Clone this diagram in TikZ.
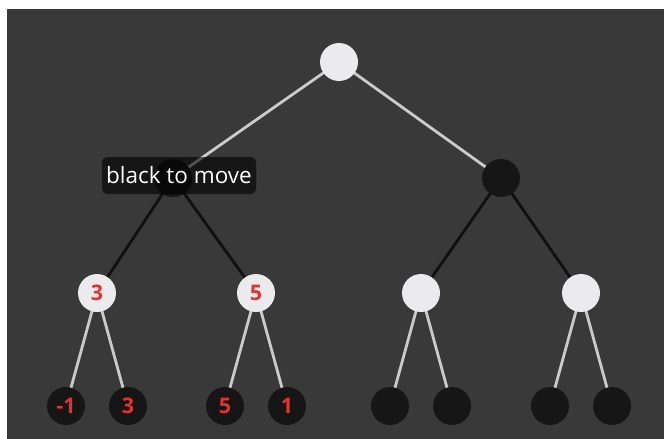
\documentclass[tikz,border=0pt]{standalone}
\usepackage{fontspec}
\setmainfont{Open Sans}
\definecolor{bg}{HTML}{393939}
\definecolor{lightnode}{HTML}{EBEBED}
\definecolor{darknode}{HTML}{161616}
\definecolor{lightedge}{HTML}{CBCBCB}
\definecolor{darkedge}{HTML}{101010}
\definecolor{score}{HTML}{E8302E}
\begin{document}
\begin{tikzpicture}[x=1pt,y=-1pt,
  treenode/.style={circle,minimum size=38pt,inner sep=0pt,
    text=score,font=\bfseries\fontsize{21.5}{21.5}\selectfont},
  whitenode/.style={treenode,fill=lightnode},
  blacknode/.style={treenode,fill=darknode},
  lightline/.style={draw=lightedge,line width=2.8pt},
  darkline/.style={draw=darkedge,line width=2.8pt},
  tag/.style={rounded corners=5pt,fill=black,fill opacity=0.6,text opacity=1,
    text=white,font=\fontsize{22.5}{22.5}\selectfont,inner xsep=3pt,
    minimum height=37pt,minimum width=154pt}]
% canvas and margins
\fill[white] (0,0) rectangle (664,439);
\fill[bg] (7,9) rectangle (664,439);
\useasboundingbox (0,0) rectangle (664,439);

% node positions
\coordinate (pr) at (339,62);
\coordinate (pa) at (173,178);
\coordinate (pb) at (501,178);
\coordinate (pa1) at (97,293);
\coordinate (pa2) at (256,293);
\coordinate (pb1) at (421,293);
\coordinate (pb2) at (581,293);
\foreach \n/\x in {1/66,2/128,3/225,4/287,5/390,6/452,7/550,8/612}
  \coordinate (pl\n) at (\x,406);

% connectors first, circles cover their ends
\path[lightline] (pr) -- (pa) (pr) -- (pb);
\path[darkline] (pa) -- (pa1) (pa) -- (pa2) (pb) -- (pb1) (pb) -- (pb2);
\path[lightline] (pa1) -- (pl1) (pa1) -- (pl2) (pa2) -- (pl3) (pa2) -- (pl4)
                 (pb1) -- (pl5) (pb1) -- (pl6) (pb2) -- (pl7) (pb2) -- (pl8);

\node[whitenode] (root) at (pr) {};
\node[blacknode] (a) at (pa) {};
\node[blacknode] (b) at (pb) {};
\node[whitenode] (a1) at (pa1) {3};
\node[whitenode] (a2) at (pa2) {5};
\node[whitenode] (b1) at (pb1) {};
\node[whitenode] (b2) at (pb2) {};

\node[blacknode] (l1) at (pl1) {-1};
\node[blacknode] (l2) at (pl2) {3};
\node[blacknode] (l3) at (pl3) {5};
\node[blacknode] (l4) at (pl4) {1};
\node[blacknode] (l5) at (pl5) {};
\node[blacknode] (l6) at (pl6) {};
\node[blacknode] (l7) at (pl7) {};
\node[blacknode] (l8) at (pl8) {};

\node[tag] (label) at (179,175.5) {black to move};
\end{tikzpicture}
\end{document}
